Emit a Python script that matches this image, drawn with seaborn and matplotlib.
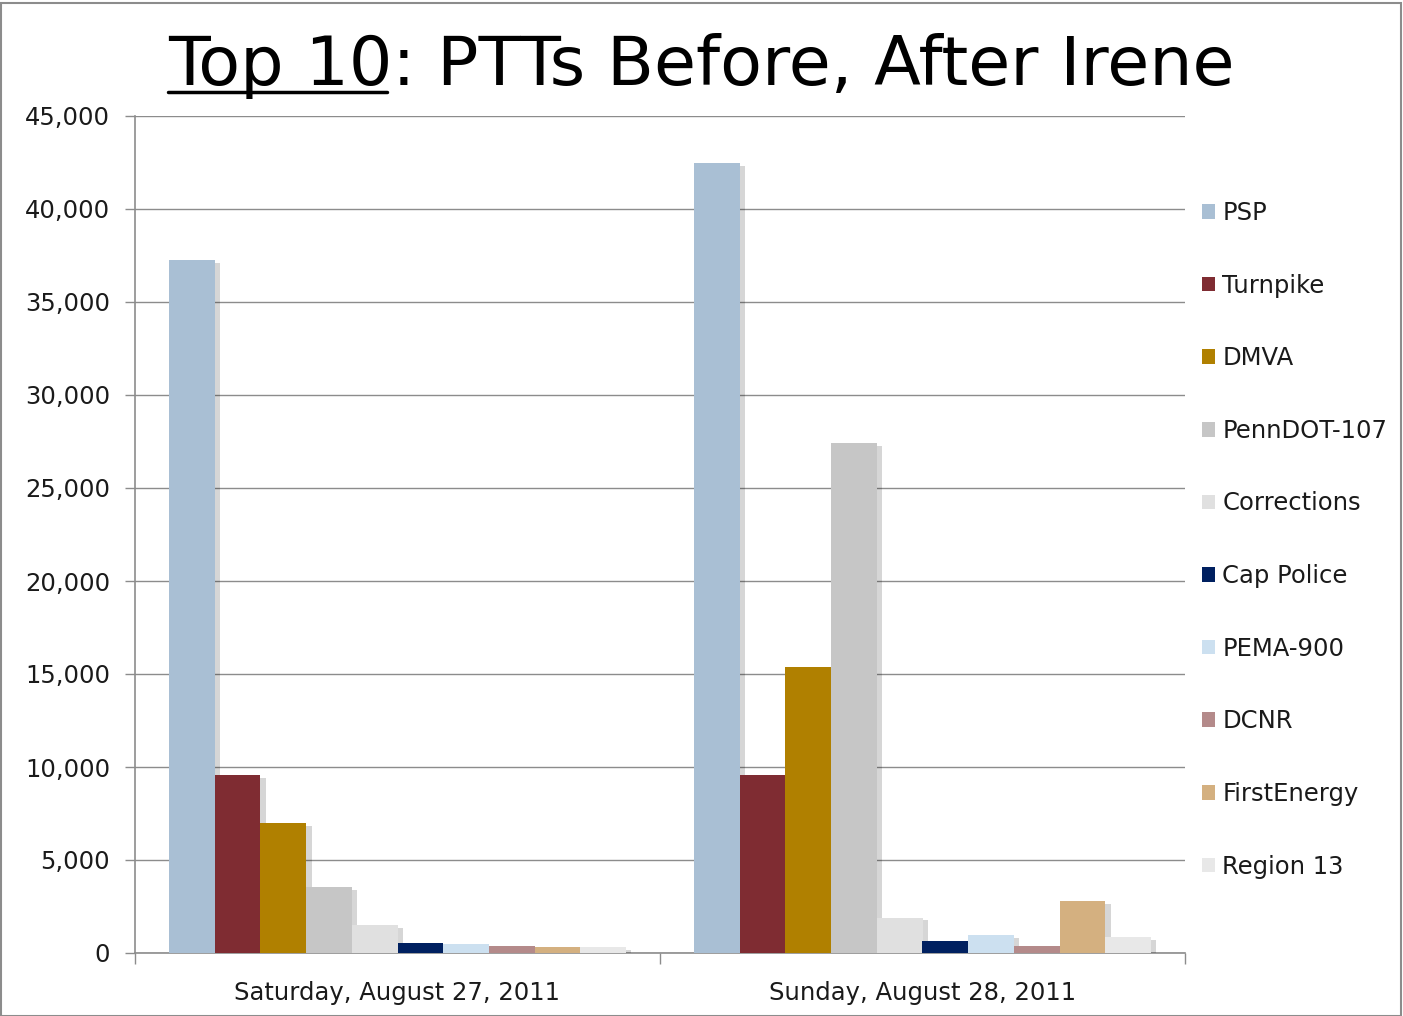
import matplotlib
matplotlib.use("Agg")
import matplotlib.pyplot as plt
import matplotlib.patheffects as pe
from matplotlib.patches import Rectangle
from matplotlib.lines import Line2D
from matplotlib.ticker import FuncFormatter, FixedLocator
import pandas as pd
import seaborn as sns

# ---- data ----
days = ["Saturday, August 27, 2011", "Sunday, August 28, 2011"]
agencies = ["PSP", "Turnpike", "DMVA", "PennDOT-107", "Corrections",
            "Cap Police", "PEMA-900", "DCNR", "FirstEnergy", "Region 13"]
saturday = [37250, 9550, 7000, 3550, 1500, 550, 500, 390, 340, 300]
sunday = [42450, 9550, 15400, 27400, 1900, 630, 950, 390, 2780, 850]
colors = ["#A9BFD4", "#7F2C32", "#B08000", "#C6C6C6", "#E0E0E0",
          "#002060", "#CCE0F0", "#B48A8A", "#D4B080", "#E8E8E8"]

rows = []
for a, s, u in zip(agencies, saturday, sunday):
    rows.append({"day": days[0], "agency": a, "ptts": s})
    rows.append({"day": days[1], "agency": a, "ptts": u})
df = pd.DataFrame(rows)

sns.set_theme(style="white")
plt.rcParams["font.family"] = ["DejaVu Sans"]

fig = plt.figure(figsize=(14.03, 10.16), dpi=100)
ax = fig.add_axes([135 / 1403, 1 - 953 / 1016, 1050 / 1403, 837 / 1016])

sns.barplot(data=df, x="day", y="ptts", hue="agency", hue_order=agencies,
            order=days, palette=colors, saturation=1, width=0.87, gap=0,
            linewidth=0, ax=ax, zorder=3)

# legend first, so the handles do not inherit the bar shadows
handles, labels = ax.get_legend_handles_labels()
ax.legend(handles, labels, loc="upper left", bbox_to_anchor=(1.0065, 0.91),
          frameon=False, fontsize=17.5, handlelength=0.55, handleheight=0.55,
          handletextpad=0.3, labelspacing=2.0, borderaxespad=0,
          labelcolor="#1a1a1a")

shadow = [pe.SimplePatchShadow(offset=(4, -2), shadow_rgbFace="black", alpha=0.16),
          pe.Normal()]
for p in ax.patches:
    p.set_path_effects(shadow)

ax.set_ylim(0, 45000)
ax.set_xlim(-0.5, 1.5)
ax.set_yticks(range(0, 45001, 5000))
ax.yaxis.set_major_formatter(FuncFormatter(lambda v, _: f"{int(v):,}"))
ax.yaxis.grid(True, color="#8c8c8c", linewidth=1, zorder=0)
ax.set_axisbelow(True)
ax.set_xlabel("")
ax.set_ylabel("")
for side in ["top", "right"]:
    ax.spines[side].set_visible(False)
for side in ["left", "bottom"]:
    ax.spines[side].set_color("#8c8c8c")
    ax.spines[side].set_linewidth(1.2)

ax.tick_params(axis="y", which="major", length=7, color="#8c8c8c", width=1,
               labelsize=17.5, pad=11, left=True)
ax.tick_params(axis="x", which="major", length=0, labelsize=17.5, pad=20)
ax.xaxis.set_minor_locator(FixedLocator([-0.5, 0.5, 1.5]))
ax.tick_params(axis="x", which="minor", length=8, color="#8c8c8c", width=1, bottom=True)
for lbl in ax.get_xticklabels() + ax.get_yticklabels():
    lbl.set_color("#1a1a1a")

# title with underlined "Top 10"
title_x, title_y = 168 / 1403, 1 - 85 / 1016
tprops = dict(fontsize=49.2, color="black", ha="left", va="baseline")
fig.text(title_x, title_y, "Top 10: PTTs Before, After Irene", **tprops)
probe = fig.text(title_x, title_y, "Top 10", alpha=0, **tprops)
fig.canvas.draw()
bb = probe.get_window_extent().transformed(fig.transFigure.inverted())
probe.remove()
uy = title_y - 7 / 1016
fig.add_artist(Line2D([bb.x0, bb.x1 - 0.004], [uy, uy], transform=fig.transFigure,
                      color="black", linewidth=2.5))

# outer frame
fig.add_artist(Rectangle((0.0005, 0.0), 0.998, 0.997, transform=fig.transFigure,
                         fill=False, edgecolor="#8c8c8c", linewidth=1.5))

fig.savefig("out.png", dpi=100)
